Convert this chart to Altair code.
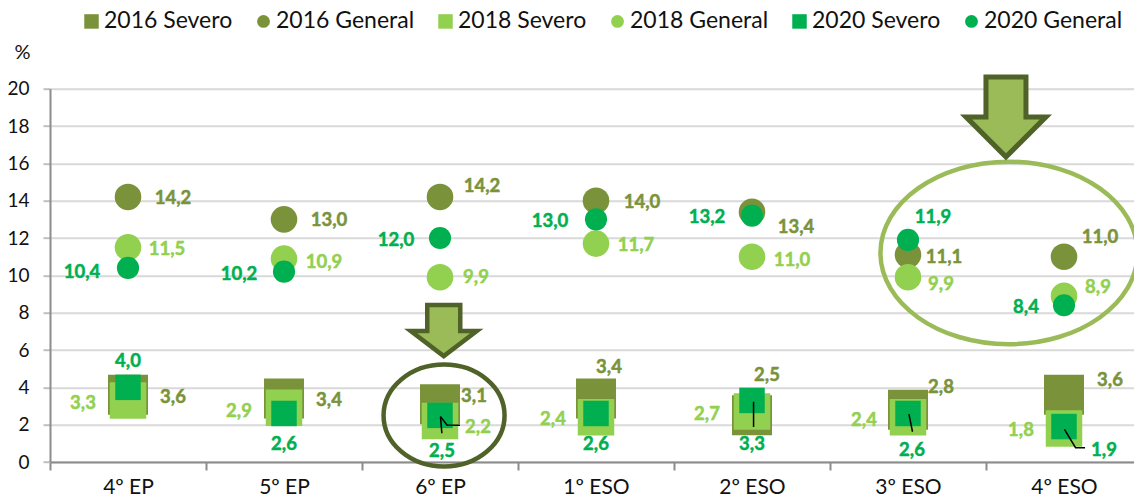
import altair as alt
import pandas as pd

cats = ["4º EP", "5º EP", "6º EP", "1º ESO", "2º ESO", "3º ESO", "4º ESO"]
series = ["2016 Severo", "2016 General", "2018 Severo", "2018 General", "2020 Severo", "2020 General"]

s16 = [3.6, 3.4, 3.1, 3.4, 2.5, 2.8, 3.6]
g16 = [14.2, 13.0, 14.2, 14.0, 13.4, 11.1, 11.0]
s18 = [3.3, 2.9, 2.2, 2.4, 2.7, 2.4, 1.8]
g18 = [11.5, 10.9, 9.9, 11.7, 11.0, 9.9, 8.9]
s20 = [4.0, 2.6, 2.5, 2.6, 3.3, 2.6, 1.9]
g20 = [10.4, 10.2, 12.0, 13.0, 13.2, 11.9, 8.4]
values = [s16, g16, s18, g18, s20, g20]

# label offsets from each marker, in pixels
s16_dx = [45, 45, 34, 13, 15, 33, 46]
s16_dy = [2, 1, -8, -32, -40, -23, -15]
g16_dx = [45, 45, 42, 46, 44, 36, 36]
g16_dy = [1, 1, -11, 1, 15, 2, -20]
s18_dx = [-45, -45, 38, -43, -45, -44, -43]
s18_dy = [3, 3, 6, 2, 2, 3, 2]
g18_dx = [39, 40, 36, 40, 40, 33, 34]
g18_dy = [2, 3, 0, 1, 3, 7, -9]
s20_dx = [0, 0, 2, 0, 0, 4, 40]
s20_dy = [-26, 31, 36, 31, 44, 37, 23]
g20_dx = [-46, -45, -44, -46, -45, 25, -38]
g20_dy = [4, 2, 2, 2, 1, -23, 2]
dxs = [s16_dx, g16_dx, s18_dx, g18_dx, s20_dx, g20_dx]
dys = [s16_dy, g16_dy, s18_dy, g18_dy, s20_dy, g20_dy]

OLIVE, LIME, GREEN = "#7A933B", "#92D050", "#00B050"
DARK, SOFT = "#4F6228", "#9BBB59"
FONT = "Lato"
colors = [OLIVE, OLIVE, LIME, LIME, GREEN, GREEN]
SQ = "M-1.128,-1.128H1.128V1.128H-1.128Z"
shapes = [SQ, "circle", SQ, "circle", SQ, "circle"]
sizes = [(40 / 1.128) ** 2, 707, (36.5 / 1.128) ** 2, 707, (25.5 / 1.128) ** 2, 491]

W, H = 1092, 373.3
BAND = W / len(cats)
UNIT = H / 20

rows = []
for sname, vals, dx, dy in zip(series, values, dxs, dys):
    for i, (c, v, a, b) in enumerate(zip(cats, vals, dx, dy)):
        rows.append({"cat": c, "series": sname, "value": v,
                     "lx": i + 0.5 + a / BAND, "ly": v - b / UNIT,
                     "label": f"{v:.1f}".replace(".", ",")})
df = pd.DataFrame(rows)

y_scale = alt.Scale(domain=[0, 20], nice=False)
y_axis = alt.Axis(
    values=list(range(0, 21, 2)), gridColor="#D9D9D9", gridWidth=2, domainColor="#8C8C8C", domainWidth=2,
    tickColor="#BFBFBF", tickWidth=2, tickSize=7, labelFont=FONT, labelFontSize=19,
    labelColor="#111111", labelPadding=14, titleAngle=0, titleFont=FONT, titleFontSize=20,
    titleFontWeight="normal", titleColor="#111111", titleX=-28, titleY=-26, titleAlign="center")
Y = lambda f: alt.Y(f, scale=y_scale, title="%", axis=y_axis)

x_scale = alt.Scale(type="band", domain=cats, paddingInner=0, paddingOuter=0)
x_axis = alt.Axis(
    tickBand="extent", labelAngle=0, grid=False, domainColor="#8C8C8C", domainWidth=2,
    tickColor="#8C8C8C", tickWidth=2, tickSize=8, labelFont=FONT, labelFontSize=21,
    labelColor="#111111", labelPadding=6)
color_scale = alt.Scale(domain=series, range=colors)
shape_scale = alt.Scale(domain=series, range=shapes)
legend = alt.Legend(
    title=None, orient="none", legendX=30, legendY=-79, columns=6, gridAlign="each",
    columnPadding=19, symbolSize=165, labelFont=FONT, labelFontSize=23, labelColor="#111111",
    labelOffset=1, symbolStrokeWidth=0, symbolOpacity=1, labelLimit=400, rowPadding=0,
)

point_layers = []
for sname, sz in zip(series, sizes):
    point_layers.append(
        alt.Chart(df[df.series == sname]).mark_point(filled=True, opacity=1, strokeWidth=0, size=sz).encode(
            x=alt.X("cat:N", title=None, sort=cats, scale=x_scale, axis=x_axis),
            y=Y("value:Q"),
            color=alt.Color("series:N", scale=color_scale, legend=legend),
            shape=alt.Shape("series:N", scale=shape_scale, legend=legend),
        )
    )
points = alt.layer(*point_layers)

# annotations and labels, anchored on a continuous x running 0..7 across the categories
x_q = alt.Scale(domain=[0, 7], nice=False, zero=False)

texts = alt.Chart(df).mark_text(font=FONT, fontSize=18.5, fontWeight="bold", strokeWidth=0.5).encode(
    x=alt.X("lx:Q", scale=x_q, axis=None),
    y=Y("ly:Q"),
    text="label:N",
    fill=alt.Fill("series:N", scale=color_scale, legend=None),
    stroke=alt.Stroke("series:N", scale=color_scale, legend=None),
)

lead_group = [0, 0, 1, 1, 1, 2, 2, 3, 3, 4, 4, 4]
lead_x = [2.512, 2.503, 2.503, 2.545, 2.628, 4.51, 4.51, 5.506, 5.529, 6.503, 6.574, 6.635]
lead_y = [1.54, 2.43, 2.43, 1.98, 1.97, 3.23, 1.88, 2.56, 1.62, 1.75, 0.77, 0.77]
leaders = alt.Chart(pd.DataFrame({"g": lead_group, "x": lead_x, "y": lead_y, "o": range(len(lead_x))})).mark_line(
    color="#000000", strokeWidth=1.5).encode(
    x=alt.X("x:Q", scale=x_q, axis=None),
    y=Y("y:Q"),
    detail="g:N", order="o:Q")

ARROW_BIG = "M-.5,-1H.5V0H1L0,1L-1,0H-.5Z"
ARROW_SMALL = "M-.5,-.79H.5V0H1L0,.76L-1,0H-.5Z"
ELL_A = "M-1,0A1,.843,0,1,1,1,0A1,.843,0,1,1,-1,0Z"
ELL_B = "M-1,0A1,.71,0,1,1,1,0A1,.71,0,1,1,-1,0Z"

def shape_layer(x, y, path, size, fill, stroke, width):
    frame = pd.DataFrame({"x": [x], "y": [y]})
    return alt.Chart(frame).mark_point(
        shape=path, size=size, filled=fill is not None, fill=fill if fill else "transparent",
        stroke=stroke, strokeWidth=width, opacity=1, strokeMiterLimit=10,
    ).encode(
        x=alt.X("x:Q", scale=x_q, axis=None),
        y=Y("y:Q"),
    )

big_arrow = shape_layer(6.128, 18.49, ARROW_BIG, 6400, SOFT, DARK, 5)
small_arrow = shape_layer(2.524, 7.02, ARROW_SMALL, 4356, SOFT, DARK, 4.5)
ell_a = shape_layer(2.526, 2.49, ELL_A, 14641, None, DARK, 4.5)
ell_b = shape_layer(6.147, 11.2, ELL_B, 66049, None, SOFT, 4.5)

overlay = alt.layer(texts, ell_a, ell_b, small_arrow, big_arrow, leaders)

chart = alt.layer(points, overlay).resolve_scale(
    x="independent"
).properties(
    width=W, height=H,
    autosize=alt.AutoSizeParams(type="none"),
    padding={"left": 42, "top": 80.7, "right": -8, "bottom": 38},
).configure_view(stroke=None).configure(background="white")

chart.save("out.html", embed_options={"renderer": "svg", "actions": False})
